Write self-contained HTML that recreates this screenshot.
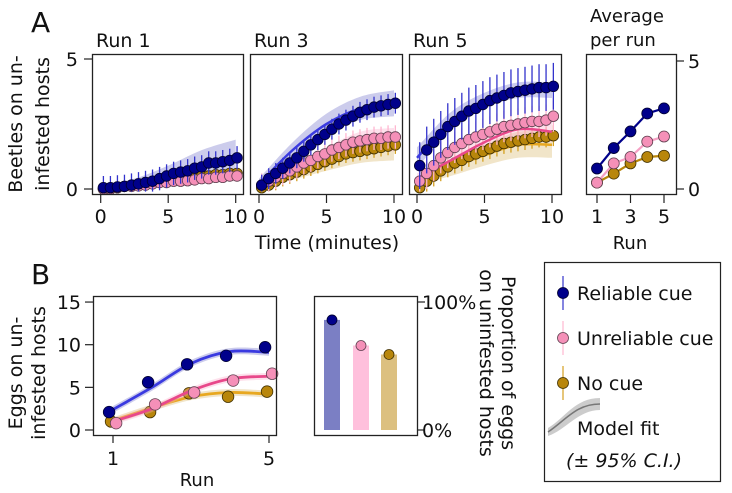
<!DOCTYPE html>
<html><head><meta charset="utf-8">
<style>
html,body{margin:0;padding:0;background:#fff;}
svg{display:block;font-family:"DejaVu Sans","Liberation Sans",sans-serif;}
text{fill:#111;}
</style></head>
<body>
<svg id="fig" width="732" height="493" viewBox="0 0 732 493" xmlns="http://www.w3.org/2000/svg">
<text x="31" y="32" font-size="28">A</text>
<text x="31" y="284" font-size="28">B</text>
<text transform="translate(22,124) rotate(-90)" text-anchor="middle" font-size="19">Beetles on un-</text>
<text transform="translate(49,124) rotate(-90)" text-anchor="middle" font-size="19">infested hosts</text>
<text x="327" y="249" text-anchor="middle" font-size="19">Time (minutes)</text>
<text x="590" y="22" font-size="18">Average</text>
<text x="590" y="46" font-size="18">per run</text>
<text x="630" y="249" text-anchor="middle" font-size="18">Run</text>
<text transform="translate(22,373) rotate(-90)" text-anchor="middle" font-size="19">Eggs on un-</text>
<text transform="translate(45,373) rotate(-90)" text-anchor="middle" font-size="19">infested hosts</text>
<text x="197" y="486" text-anchor="middle" font-size="18">Run</text>
<text transform="translate(502,363) rotate(90)" text-anchor="middle" font-size="19">Proportion of eggs</text>
<text transform="translate(480,363) rotate(90)" text-anchor="middle" font-size="19">on uninfested hosts</text>
<g id="plots"></g>
<g>
<rect x="544.5" y="262.5" width="176" height="219" fill="none" stroke="#222" stroke-width="1.2"/>
<g>
<line x1="563" y1="276" x2="563" y2="310" stroke="#3333cc" stroke-width="1.2"/>
<circle cx="563" cy="293" r="5.5" fill="#00008b" stroke="#000030" stroke-width="0.8"/>
<text x="577" y="300" font-size="19">Reliable cue</text></g>
<g>
<line x1="563" y1="321" x2="563" y2="355" stroke="#ffb6d0" stroke-width="1.2"/>
<circle cx="563" cy="338" r="5.5" fill="#f590b8" stroke="#604050" stroke-width="0.8"/>
<text x="577" y="345" font-size="19">Unreliable cue</text></g>
<g>
<line x1="563" y1="366" x2="563" y2="400" stroke="#d4a020" stroke-width="1.2"/>
<circle cx="563" cy="383" r="5.5" fill="#b8860b" stroke="#403000" stroke-width="0.8"/>
<text x="577" y="390" font-size="19">No cue</text></g>
<g>
<path d="M548,428 C565,418 575,398 600,398 L600,410 C578,410 566,430 548,436 Z" fill="#cccccc"/>
<path d="M548,432 C566,420 576,404 600,404" fill="none" stroke="#777" stroke-width="1.5"/>
<text x="577" y="435" font-size="19">Model fit</text>
<text x="566" y="467" font-size="19" font-style="italic">(± 95% C.I.)</text></g>
</g>
</svg>
<script>
// ---- Panel A data ----
const times = [0.2,0.72,1.24,1.76,2.28,2.8,3.32,3.84,4.36,4.88,5.4,5.92,6.44,6.96,7.48,8.0,8.52,9.04,9.56,10.1];
const run1Blue = [0.05,0.05,0.08,0.1,0.15,0.2,0.25,0.3,0.4,0.5,0.6,0.65,0.7,0.8,0.85,1.0,1.0,1.05,1.1,1.2];
const run1Pink = [0,0,0.05,0.1,0.1,0.12,0.15,0.2,0.25,0.25,0.3,0.3,0.32,0.35,0.4,0.4,0.45,0.45,0.5,0.5];
const run1Gold = [0,0,0.05,0.1,0.12,0.15,0.2,0.25,0.3,0.3,0.35,0.4,0.45,0.45,0.5,0.5,0.55,0.55,0.6,0.6];
const run3Blue = [0.15,0.4,0.6,0.8,1.0,1.2,1.45,1.7,1.9,2.1,2.3,2.5,2.65,2.8,2.95,3.05,3.15,3.2,3.25,3.3];
const run3Pink = [0.15,0.3,0.45,0.6,0.7,0.85,1.0,1.1,1.25,1.35,1.5,1.6,1.7,1.8,1.85,1.9,1.95,1.95,2.0,2.0];
const run3Gold = [0.05,0.15,0.3,0.45,0.55,0.65,0.75,0.85,0.95,1.05,1.15,1.25,1.35,1.4,1.45,1.5,1.55,1.6,1.65,1.7];
const run5Blue = [0.9,1.5,1.8,2.1,2.4,2.6,2.8,3.0,3.1,3.25,3.4,3.5,3.6,3.7,3.75,3.8,3.85,3.9,3.9,3.95];
const run5Pink = [0.3,0.6,0.9,1.2,1.4,1.6,1.75,1.9,2.0,2.1,2.2,2.3,2.4,2.45,2.5,2.55,2.6,2.6,2.65,2.8];
const run5Gold = [0.05,0.3,0.5,0.7,0.85,1.0,1.1,1.25,1.35,1.45,1.55,1.65,1.75,1.8,1.85,1.9,1.95,2.0,2.0,2.05];
const errBlue = [0.45,0.4,0.9];
const errPink = [0.15,0.45,0.6];
const errGold = [0.15,0.35,0.4];
const fitTimes = [0,2.5,5,7.5,10];
const fit1Blue=[0.05,0.2,0.55,0.95,1.2], ci1Blue=[0.1,0.2,0.35,0.55,0.7];
const fit1Pink=[0.02,0.15,0.3,0.4,0.5], ci1Pink=[0.05,0.1,0.15,0.15,0.2];
const fit1Gold=[0.02,0.15,0.35,0.5,0.6], ci1Gold=[0.05,0.1,0.15,0.2,0.2];
const fit3Blue=[0.2,1.5,2.5,3.1,3.3], ci3Blue=[0.2,0.3,0.4,0.45,0.5];
const fit3Pink=[0.15,0.7,1.3,1.8,1.9], ci3Pink=[0.1,0.2,0.3,0.4,0.45];
const fit3Gold=[0.1,0.55,1.0,1.4,1.6], ci3Gold=[0.1,0.2,0.3,0.4,0.5];
const fit5Blue=[1.2,2.6,3.4,3.8,3.8], ci5Blue=[0.4,0.35,0.3,0.3,0.3];
const fit5Pink=[0.4,1.1,1.8,2.3,2.2], ci5Pink=[0.2,0.3,0.4,0.4,0.4];
const fit5Gold=[0.3,0.8,1.3,1.7,1.7], ci5Gold=[0.15,0.3,0.4,0.5,0.5];
const avgRuns=[1,2,3,4,5];
const avgBlue=[0.8,1.6,2.25,2.95,3.15];
const avgPink=[0.25,1.0,1.25,1.85,2.05];
const avgGold=[0.25,0.6,1.0,1.25,1.3];
// ---- Panel B data ----
const eggRuns=[1,2,3,4,5];
const eggBlue=[2.1,5.6,7.7,8.7,9.7];
const eggPink=[0.8,3.0,4.4,5.8,6.6];
const eggGold=[1.0,2.1,4.3,3.9,4.5];
const eggErr=[0.6,0.5,0.5];
const eggFitBlue=[2.4,5.0,7.8,9.2,9.1];
const eggFitPink=[1.0,2.5,4.6,6.0,6.3];
const eggFitGold=[1.1,2.6,3.9,4.4,4.2];
const propCats=["Reliable cue","Unreliable cue","No cue"];
const propValues=[86,66,59];

const NS="http://www.w3.org/2000/svg";
const root=document.getElementById('plots');
function mk(tag,attrs,parent){const e=document.createElementNS(NS,tag);for(const k in attrs)e.setAttribute(k,attrs[k]);(parent||root).appendChild(e);return e;}
const COL={blue:{pt:"#00008b",st:"#000030",err:"#3333cc",line:"#3a3ae0",band:"rgba(110,110,200,0.35)"},
 pink:{pt:"#f590b8",st:"#604050",err:"#ffb6d0",line:"#e8488a",band:"rgba(250,170,200,0.35)"},
 gold:{pt:"#b8860b",st:"#403000",err:"#d4a020",line:"#e8a820",band:"rgba(220,190,120,0.4)"}};
function smooth(pts){let d="M"+pts[0][0]+","+pts[0][1];for(let i=0;i<pts.length-1;i++){const p0=pts[Math.max(0,i-1)],p1=pts[i],p2=pts[i+1],p3=pts[Math.min(pts.length-1,i+2)];
 d+=" C"+(p1[0]+(p2[0]-p0[0])/6)+","+(p1[1]+(p2[1]-p0[1])/6)+" "+(p2[0]-(p3[0]-p1[0])/6)+","+(p2[1]-(p3[1]-p1[1])/6)+" "+p2[0]+","+p2[1];}return d;}
function band(xs,ys,cis,sx,sy){const up=xs.map((x,i)=>[sx(x),sy(ys[i]+cis[i])]);const lo=xs.map((x,i)=>[sx(x),sy(Math.max(0,ys[i]-cis[i]))]).reverse();
 let d=smooth(up);d+=" L"+lo[0][0]+","+lo[0][1]+smooth(lo).replace(/^M[^ ]+/,"");return d+" Z";}
function box(x0,y0,x1,y1,name){const r=mk('rect',{x:x0+0.5,y:y0+0.5,width:x1-x0,height:y1-y0,fill:"none",stroke:"#222","stroke-width":1.3});
 
 }
function tick(x1,y1,x2,y2){mk('line',{x1,y1,x2,y2,stroke:"#222","stroke-width":1.2});}
function label(x,y,t,anchor,size,name){const e=mk('text',{x,y,"text-anchor":anchor||"middle","font-size":size||19});e.textContent=t;
 
 }

// Panel A runs
const yA=v=>189-v*26;
const runs=[{name:"run-1",title:"Run 1",bx:[92,243],x0:100.7,x10:235.7,data:[run1Blue,run1Pink,run1Gold],fits:[[fit1Blue,ci1Blue],[fit1Pink,ci1Pink],[fit1Gold,ci1Gold]],ei:0},
 {name:"run-3",title:"Run 3",bx:[250,402],x0:259,x10:394,data:[run3Blue,run3Pink,run3Gold],fits:[[fit3Blue,ci3Blue],[fit3Pink,ci3Pink],[fit3Gold,ci3Gold]],ei:1},
 {name:"run-5",title:"Run 5",bx:[409,561],x0:417,x10:552,data:[run5Blue,run5Pink,run5Gold],fits:[[fit5Blue,ci5Blue],[fit5Pink,ci5Pink],[fit5Gold,ci5Gold]],ei:2}];
const keys=["blue","pink","gold"],errs=[errBlue,errPink,errGold];
runs.forEach(r=>{
 const sx=t=>r.x0+(r.x10-r.x0)*t/10;
 label(r.bx[0]+4,47,r.title,"start",19,r.name+"-title");
 [0,5,10].forEach(t=>{tick(sx(t),195,sx(t),203);label(sx(t),223,String(t),"middle",19,r.name+"-x-tick-"+t);});
 const g=mk('g',{});
 
 
 [2,1,0].forEach(k=>{const c=COL[keys[k]];const f=r.fits[k];
  const b=mk('path',{d:band(fitTimes,f[0],f[1],sx,yA),fill:c.band},g);
  
  });
 [2,1,0].forEach(k=>{const c=COL[keys[k]];const vals=r.data[k];const e=errs[k][r.ei];
  vals.forEach((v,i)=>{const l=mk('line',{x1:sx(times[i]),x2:sx(times[i]),y1:yA(v+e),y2:yA(Math.max(-0.1,v-e)),stroke:c.err,"stroke-width":1.3},g);
   
   });
  const f=r.fits[k];
  const ln=mk('path',{d:smooth(fitTimes.map((t,i)=>[sx(t),yA(f[0][i])])),fill:"none",stroke:c.line,"stroke-width":2.5},g);
  
  
  vals.forEach((v,i)=>{const p=mk('circle',{cx:sx(times[i]),cy:yA(v),r:5.3,fill:c.pt,stroke:c.st,"stroke-width":0.8},g);
   
   });
 });
 box(r.bx[0],54,r.bx[1],194,r.name+"-frame");
});
// left y axis for run 1
[0,5].forEach(v=>{tick(84,yA(v),92,yA(v));label(78,yA(v)+7,String(v),"end",19,"y-tick-a-"+v);});
// average panel
const sxAvg=x=>597+(x-1)*16.75;const yAv=v=>189-v*25.6;
[1,3,5].forEach(x=>{tick(sxAvg(x),194,sxAvg(x),203);label(sxAvg(x),223,String(x),"middle",19,"avg-x-tick-"+x);});
[0,5].forEach(v=>{tick(676,yAv(v),684,yAv(v));label(688,yAv(v)+7,String(v),"start",19,"avg-y-tick-"+v);});
[[avgGold,"gold","#b8860b"],[avgPink,"pink","#f5a0c4"],[avgBlue,"blue","#00008b"]].forEach(([arr,k,lc])=>{
 const c=COL[k];
 const pl=mk('polyline',{points:avgRuns.map((x,i)=>sxAvg(x)+","+yAv(arr[i])).join(" "),fill:"none",stroke:lc,"stroke-width":2.2});
 
 
 arr.forEach((v,i)=>{const p=mk('circle',{cx:sxAvg(avgRuns[i]),cy:yAv(v),r:5.5,fill:c.pt,stroke:c.st,"stroke-width":0.8});
  
  });
});
box(586,54,676,194,"average-frame");

// Panel B eggs
const sxB=x=>113+(x-1)*39;const yB=v=>430-v*8.53;
[0,5,10,15].forEach(v=>{tick(85,yB(v),93,yB(v));label(81,yB(v)+7,String(v),"end",19,"y-tick-b-"+v);});
[1,5].forEach(x=>{tick(sxB(x),435,sxB(x),443);label(sxB(x),465,String(x),"middle",19,"b-x-tick-"+x);});
const eggOff=[-0.1,0.08,-0.05];
[[eggGold,eggFitGold,"gold",2],[eggPink,eggFitPink,"pink",1],[eggBlue,eggFitBlue,"blue",0]].forEach(([arr,fit,k,ki])=>{
 const c=COL[k];
 const ci=fit.map(()=>0.4);
 const bd=mk('path',{d:band(eggRuns,fit,ci,sxB,yB),fill:c.band});
 
 
 const ln=mk('path',{d:smooth(eggRuns.map((x,i)=>[sxB(x),yB(fit[i])])),fill:"none",stroke:c.line,"stroke-width":2.8});
 
 
 arr.forEach((v,i)=>{const x=sxB(eggRuns[i]+eggOff[ki]);const e=eggErr[ki];
  const l=mk('line',{x1:x,x2:x,y1:yB(v+e),y2:yB(v-e),stroke:c.err,"stroke-width":1.3});
  
  
  const p=mk('circle',{cx:x,cy:yB(v),r:5.8,fill:c.pt,stroke:c.st,"stroke-width":0.8});
  
  });
});
box(93,296,276,435,"eggs-frame");

// Proportion bars
const yP=v=>430-v*1.28;const barX=[332,361,389];const barCol=["#7b7fc4","#ffc0dc","#dcc080"];
propValues.forEach((v,i)=>{
 const b=mk('rect',{x:barX[i]-8,y:yP(v),width:16,height:yP(0)-yP(v),fill:barCol[i]});
 
 
 const c=COL[keys[i]];
 const p=mk('circle',{cx:barX[i],cy:yP(v),r:5,fill:c.pt,stroke:c.st,"stroke-width":0.8});
 
 
});
box(314,296,417,435,"proportion-frame");
[[0,"0%"],[100,"100%"]].forEach(([v,t])=>{tick(417,yP(v),425,yP(v));label(422,yP(v)+7,t,"start",19,"prop-tick-"+v);});
</script>
</body></html>
